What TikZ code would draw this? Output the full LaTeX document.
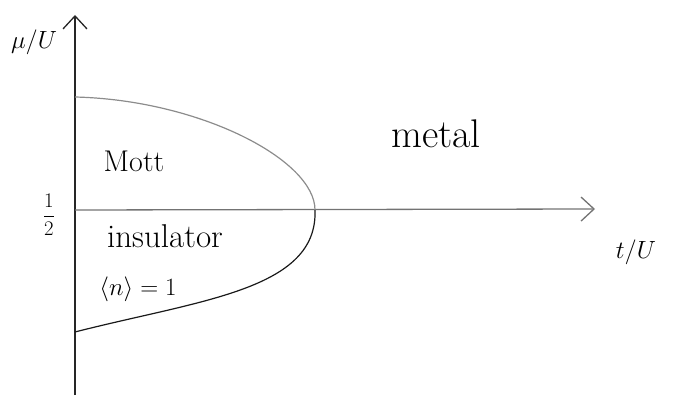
\documentclass[tikz,border=0pt]{standalone}
\usetikzlibrary{arrows.meta}
\begin{document}
\begin{tikzpicture}[x=1pt,y=-1pt,
  axisline/.style={line width=1.3pt,-{Straight Barb[length=13pt,width=24pt,line width=1.3pt]}},
  curveline/.style={line width=1.2pt},
  lbl/.style={inner sep=0pt},
  fs/.style={font=\fontsize{#1}{#1}\selectfont}]
\useasboundingbox (0,0) rectangle (675,406);
\coordinate (o) at (75,210);
\coordinate (ybot) at (75,395);
\coordinate (ytop) at (75,15);
\coordinate (xend) at (595,209);
\coordinate (top) at (75,97);
\coordinate (tip) at (315,210);
\coordinate (bot) at (75,332);
\draw[axisline,black!85] (ybot) -- (ytop);
\draw[axisline,black!55] (o) -- (xend);
\draw[curveline,black!45] (top) .. controls (200,100) and (315,160) .. (tip);
\draw[curveline,black!90] (tip) .. controls (318,290) and (200,300) .. (bot);
\node[lbl,fs=31] (mu) at (34,42) {$\mu/U$};
\node[lbl,fs=22] (half) at (49,215) {$\displaystyle\frac{1}{2}$};
\node[lbl,fs=30] (mott) at (134,161) {Mott};
\node[lbl,fs=33] (ins) at (165,236) {insulator};
\node[lbl,fs=31] (n) at (138,289) {$\langle n\rangle = 1$};
\node[lbl,fs=40] (metal) at (436,134) {metal};
\node[lbl,fs=36] (tu) at (636,252) {$t/U$};
\end{tikzpicture}
\end{document}
